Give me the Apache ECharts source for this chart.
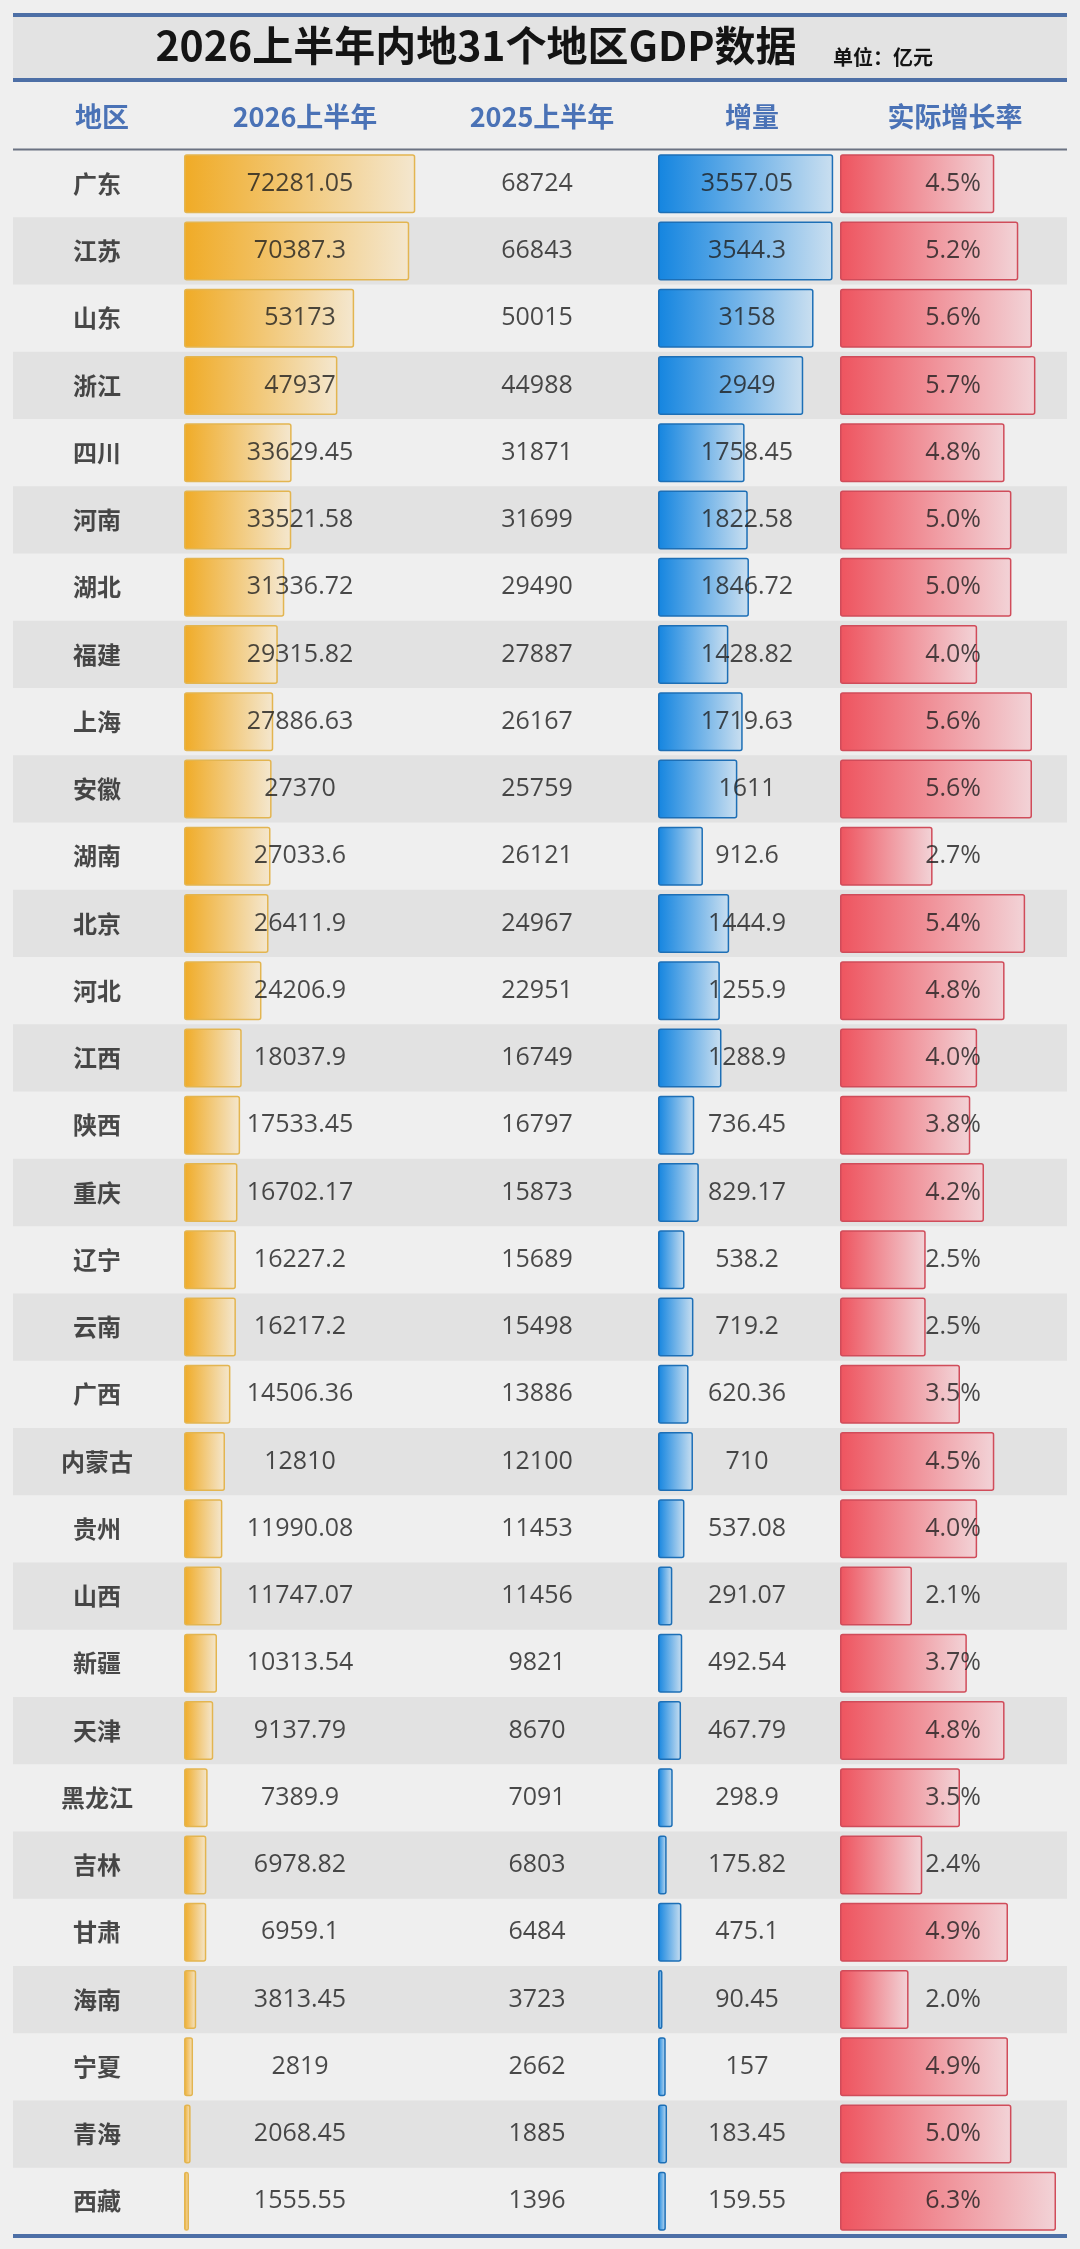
<!DOCTYPE html>
<html>
<head>
<meta charset="utf-8">
<title>2026上半年内地31个地区GDP数据</title>
<script src="https://cdn.jsdelivr.net/npm/echarts@6/dist/echarts.min.js"></script>
<style>
    html, body { margin: 0; padding: 0; background: #efefef; }
    #chart { width: 1080px; height: 2249px; }
</style>
</head>
<body>
<div id="chart"></div>
<script>
    // 数据（单位：亿元）
    var regions = ['广东', '江苏', '山东', '浙江', '四川', '河南', '湖北', '福建', '上海', '安徽',
        '湖南', '北京', '河北', '江西', '陕西', '重庆', '辽宁', '云南', '广西', '内蒙古',
        '贵州', '山西', '新疆', '天津', '黑龙江', '吉林', '甘肃', '海南', '宁夏', '青海', '西藏'];
    var gdp2026 = [72281.05, 70387.3, 53173, 47937, 33629.45, 33521.58, 31336.72, 29315.82, 27886.63, 27370,
        27033.6, 26411.9, 24206.9, 18037.9, 17533.45, 16702.17, 16227.2, 16217.2, 14506.36, 12810,
        11990.08, 11747.07, 10313.54, 9137.79, 7389.9, 6978.82, 6959.1, 3813.45, 2819, 2068.45, 1555.55];
    var gdp2025 = [68724, 66843, 50015, 44988, 31871, 31699, 29490, 27887, 26167, 25759,
        26121, 24967, 22951, 16749, 16797, 15873, 15689, 15498, 13886, 12100,
        11453, 11456, 9821, 8670, 7091, 6803, 6484, 3723, 2662, 1885, 1396];
    var increase = [3557.05, 3544.3, 3158, 2949, 1758.45, 1822.58, 1846.72, 1428.82, 1719.63, 1611,
        912.6, 1444.9, 1255.9, 1288.9, 736.45, 829.17, 538.2, 719.2, 620.36, 710,
        537.08, 291.07, 492.54, 467.79, 298.9, 175.82, 475.1, 90.45, 157, 183.45, 159.55];
    var growthRate = [4.5, 5.2, 5.6, 5.7, 4.8, 5.0, 5.0, 4.0, 5.6, 5.6,
        2.7, 5.4, 4.8, 4.0, 3.8, 4.2, 2.5, 2.5, 3.5, 4.5,
        4.0, 2.1, 3.7, 4.8, 3.5, 2.4, 4.9, 2.0, 4.9, 5.0, 6.3];
    var headers = ['地区', '2026上半年', '2025上半年', '增量', '实际增长率'];

    // 布局
    var TABLE_LEFT = 13, TABLE_RIGHT = 1067, TABLE_TOP = 150, TABLE_BOTTOM = 2235;
    var TABLE_H = TABLE_BOTTOM - TABLE_TOP;
    var COL_X = { name: 97, cur: 300, prev: 537, inc: 747, rate: 981 };
    var HEAD_BLUE = '#4a72b6';
    var LINE_BLUE = '#4d6fa6';
    var NUM_FONT = '"Open Sans", "Noto Sans", "Noto Sans CJK SC", sans-serif';
    var CJK_FONT = '"Noto Sans CJK SC", sans-serif';

    function gradient(from, to) {
        return new echarts.graphic.LinearGradient(0, 0, 1, 0, [
            { offset: 0, color: from },
            { offset: 1, color: to }
        ]);
    }

    function barSeries(gridIndex, data, from, to, border) {
        return {
            type: 'bar',
            xAxisIndex: gridIndex,
            yAxisIndex: gridIndex,
            data: data,
            barWidth: 59,
            silent: true,
            z: 2,
            itemStyle: {
                color: gradient(from, to),
                borderColor: border,
                borderWidth: 1.5,
                borderRadius: 2
            }
        };
    }

    // 文字列：在表格网格上按固定列位置放置
    function textSeries(x, values, formatter, opts) {
        opts = opts || {};
        return {
            type: 'scatter',
            xAxisIndex: 0,
            yAxisIndex: 0,
            symbolSize: 0,
            silent: true,
            z: 10,
            data: values.map(function (v, i) { return [x, i, v]; }),
            label: {
                show: true,
                position: opts.position || 'inside',
                distance: 0,
                formatter: function (p) { return formatter(p.data[2]); },
                color: '#1e1e1e',
                fontSize: opts.fontSize || 25,
                fontWeight: opts.fontWeight || 'normal',
                fontFamily: opts.fontFamily || NUM_FONT
            }
        };
    }

    function categoryAxis(gridIndex, withBands) {
        return {
            type: 'category',
            gridIndex: gridIndex,
            data: regions,
            inverse: true,
            axisLine: { show: false },
            axisTick: { show: false },
            axisLabel: { show: false },
            splitLine: { show: false },
            splitArea: withBands ? { show: true, areaStyle: { color: ['rgba(0,0,0,0)', '#e2e2e2'] } } : { show: false }
        };
    }

    function valueAxis(gridIndex, min, max) {
        return {
            type: 'value',
            gridIndex: gridIndex,
            min: min,
            max: max,
            show: false
        };
    }

    var headerTitles = headers.map(function (h, i) {
        var xs = [COL_X.name, COL_X.cur, COL_X.prev, COL_X.inc, 950];
        return {
            text: h,
            left: xs[i],
            top: 98,
            textAlign: 'center',
            textStyle: { color: HEAD_BLUE, fontSize: 27, fontWeight: 'bold', fontFamily: CJK_FONT }
        };
    });

    var option = {
        backgroundColor: '#efefef',
        animation: false,
        title: [{
            text: '2026上半年内地31个地区GDP数据',
            left: 471,
            top: 20,
            textAlign: 'center',
            textStyle: { color: '#141414', fontSize: 41, fontWeight: 'bold', fontFamily: CJK_FONT }
        }, {
            text: '单位：亿元',
            left: 828,
            top: 42,
            textStyle: { color: '#141414', fontSize: 20, fontWeight: 'bold', fontFamily: CJK_FONT }
        }].concat(headerTitles),
        graphic: [
            { type: 'rect', z: -10, shape: { x: TABLE_LEFT, y: 16, width: TABLE_RIGHT - TABLE_LEFT, height: 62 }, style: { fill: '#e3e3e3' } },
            { type: 'line', shape: { x1: TABLE_LEFT, y1: 15, x2: TABLE_RIGHT, y2: 15 }, style: { stroke: LINE_BLUE, lineWidth: 4 } },
            { type: 'line', shape: { x1: TABLE_LEFT, y1: 80, x2: TABLE_RIGHT, y2: 80 }, style: { stroke: LINE_BLUE, lineWidth: 4 } },
            { type: 'line', shape: { x1: TABLE_LEFT, y1: 149.5, x2: TABLE_RIGHT, y2: 149.5 }, style: { stroke: '#6b7282', lineWidth: 2 } },
            { type: 'line', shape: { x1: TABLE_LEFT, y1: 2236, x2: TABLE_RIGHT, y2: 2236 }, style: { stroke: LINE_BLUE, lineWidth: 4 } }
        ],
        grid: [
            { left: TABLE_LEFT, top: TABLE_TOP, width: TABLE_RIGHT - TABLE_LEFT, height: TABLE_H },
            { left: 184, top: TABLE_TOP, width: 256, height: TABLE_H },
            { left: 658, top: TABLE_TOP, width: 197, height: TABLE_H },
            { left: 840, top: TABLE_TOP, width: 246.4, height: TABLE_H }
        ],
        xAxis: [
            valueAxis(0, TABLE_LEFT, TABLE_RIGHT),
            valueAxis(1, 0, 80000),
            valueAxis(2, 0, 4000),
            valueAxis(3, 0, 7)
        ],
        yAxis: [
            categoryAxis(0, true),
            categoryAxis(1, false),
            categoryAxis(2, false),
            categoryAxis(3, false)
        ],
        series: [
            barSeries(1, gdp2026, '#f0ab26', '#f4e7cf', '#e3b550'),
            barSeries(2, increase, '#1485e0', '#cadff0', '#1d6fb6'),
            barSeries(3, growthRate, '#ee545f', '#f2d3d7', '#d04c5a'),
            textSeries(COL_X.name, regions, function (v) { return v; },
                { fontSize: 24, fontWeight: 'bold', fontFamily: CJK_FONT }),
            textSeries(COL_X.cur, gdp2026, function (v) { return String(v); }),
            textSeries(COL_X.prev, gdp2025, function (v) { return String(v); }),
            textSeries(COL_X.inc, increase, function (v) { return String(v); }),
            textSeries(COL_X.rate, growthRate, function (v) { return v.toFixed(1) + '%'; }, { position: 'left' })
        ]
    };

    var chart = echarts.init(document.getElementById('chart'));
    chart.setOption(option);
</script>
</body>
</html>
